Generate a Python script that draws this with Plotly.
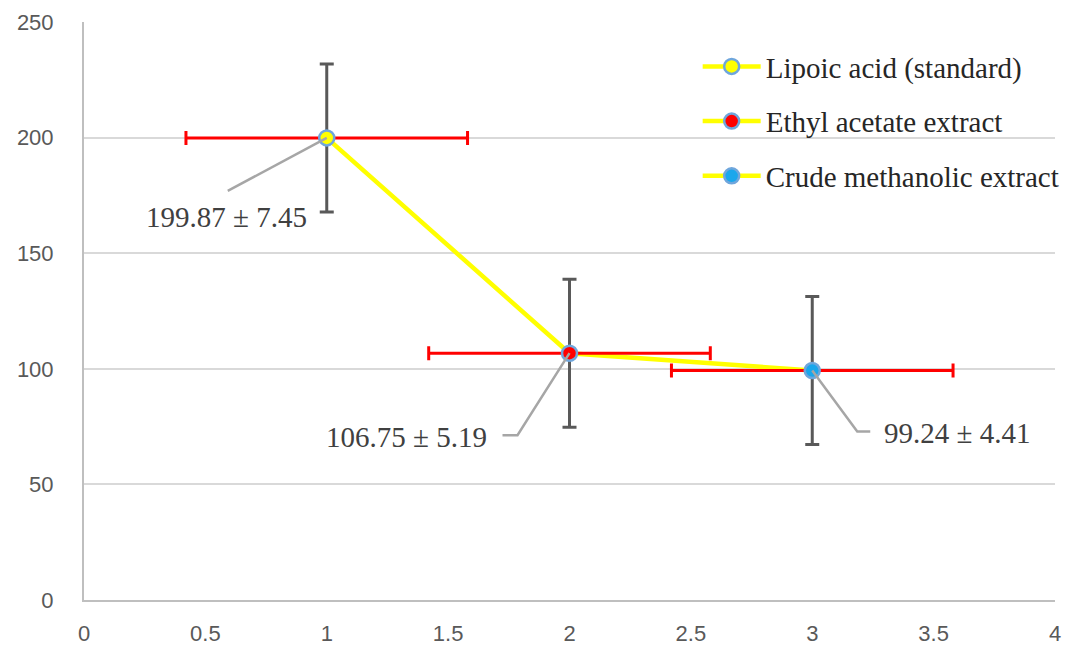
import plotly.graph_objects as go

# ---- data ----
names = ["Lipoic acid (standard)", "Ethyl acetate extract", "Crude methanolic extract"]
x_vals = [1, 2, 3]
y_vals = [199.87, 106.75, 99.24]
sd_vals = [7.45, 5.19, 4.41]
x_err = [0.58, 0.58, 0.58]
y_err = [32, 32, 32]
fill_colors = ["#FFFF00", "#FF0000", "#1AA7EC"]

# label placement (pixel offsets from each point)
label_dx = [-100, -81, 70]
label_dy = [-79, -84, -62]   # negative = down
label_anchor = ["center", "right", "left"]
leader_px = [
    [(-99, -53)],
    [(-52, -82), (-67, -82)],
    [(45, -61), (58, -61)],
]

X_RANGE = [0, 4]
Y_RANGE = [0, 250]
L, R, T, B = 84, 15, 22, 50
W, H = 1070, 650
px_per_x = (W - L - R) / (X_RANGE[1] - X_RANGE[0])
px_per_y = (H - T - B) / (Y_RANGE[1] - Y_RANGE[0])

fig = go.Figure()

# connecting line
fig.add_trace(go.Scatter(x=x_vals, y=y_vals, mode="lines",
                         line=dict(color="#FFFF00", width=4.5),
                         showlegend=False, hoverinfo="skip"))

for i, n in enumerate(names):
    fig.add_trace(go.Scatter(
        x=[x_vals[i]], y=[y_vals[i]], mode="lines+markers", name=n,
        line=dict(color="#FFFF00", width=4.5),
        marker=dict(size=15, color=fill_colors[i], line=dict(color="#6FA6DC", width=2.5)),
        error_y=dict(type="data", array=[y_err[i]], color="#595959", thickness=3, width=7),
        error_x=dict(type="data", array=[x_err[i]], color="#FF0000", thickness=3, width=7),
        legendgroup=n,
    ))

shapes = []
annotations = []
for i in range(len(x_vals)):
    pts = [(x_vals[i], y_vals[i])]
    for dx, dy in leader_px[i]:
        pts.append((x_vals[i] + dx / px_per_x, y_vals[i] + dy / px_per_y))
    path = "M " + " L ".join(f"{px},{py}" for px, py in pts)
    shapes.append(dict(type="path", path=path, xref="x", yref="y",
                       line=dict(color="#A6A6A6", width=2.5)))
    annotations.append(dict(
        x=x_vals[i], y=y_vals[i], xref="x", yref="y",
        text=f"{y_vals[i]:.2f} ± {sd_vals[i]:.2f}", showarrow=False,
        xanchor=label_anchor[i], yanchor="middle",
        xshift=label_dx[i], yshift=label_dy[i],
        font=dict(family="Liberation Serif", size=29, color="#404040"),
    ))

fig.update_layout(
    width=W, height=H,
    margin=dict(l=L, r=R, t=T, b=B, autoexpand=False),
    paper_bgcolor="white", plot_bgcolor="white",
    shapes=shapes, annotations=annotations,
    legend=dict(x=0.632, y=0.967, xanchor="left", yanchor="top",
                bgcolor="rgba(0,0,0,0)", tracegroupgap=14,
                font=dict(family="Liberation Serif", size=29, color="#262626"),
                itemwidth=58),
    xaxis=dict(range=X_RANGE, dtick=0.5, showgrid=False, zeroline=False,
               showline=True, linecolor="#BFBFBF", linewidth=2,
               tickfont=dict(family="Liberation Sans", size=22, color="#595959"),
               ticks="", ticklabelstandoff=13),
    yaxis=dict(range=Y_RANGE, dtick=50, showgrid=True, gridcolor="#D9D9D9", gridwidth=1.5,
               zeroline=False, showline=True, linecolor="#BFBFBF", linewidth=2,
               tickfont=dict(family="Liberation Sans", size=22, color="#595959"),
               ticks="", ticklabelstandoff=24),
)

fig.write_html("out.html")
